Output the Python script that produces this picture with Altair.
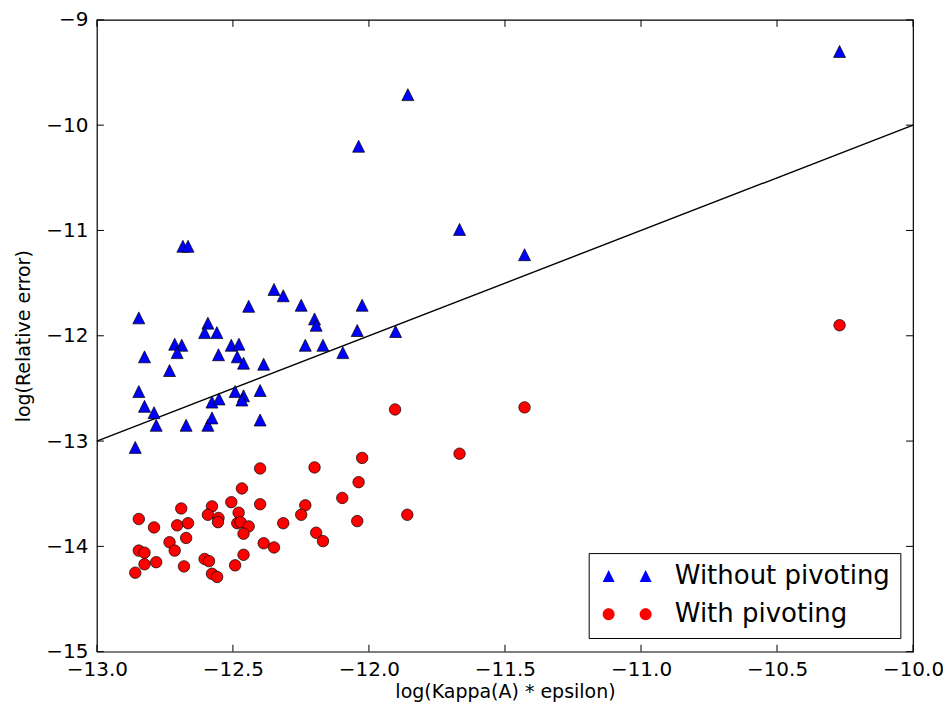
import altair as alt
import pandas as pd

series_names = ["Without pivoting", "With pivoting"]

tri_x = [-12.846, -12.592, -12.604, -12.559, -12.349, -12.315, -12.442, -12.249, -12.200, -12.194,
         -12.025, -12.043, -11.902, -12.714, -12.688, -12.705, -12.825, -12.553, -12.506, -12.478,
         -12.484, -12.461, -12.387, -12.234, -12.169, -12.096, -12.733, -12.846, -12.825, -12.790,
         -12.782, -12.672, -12.592, -12.577, -12.577, -12.551, -12.492, -12.461, -12.467, -12.400,
         -12.400, -12.859, -10.270, -11.857, -12.038, -11.667, -11.428, -12.684, -12.665]
tri_y = [-11.83, -11.88, -11.97, -11.97, -11.56, -11.62, -11.72, -11.71, -11.84, -11.90,
         -11.71, -11.95, -11.96, -12.08, -12.09, -12.16, -12.20, -12.18, -12.09, -12.08,
         -12.20, -12.26, -12.27, -12.09, -12.09, -12.16, -12.33, -12.53, -12.67, -12.73,
         -12.85, -12.85, -12.85, -12.78, -12.63, -12.60, -12.53, -12.57, -12.61, -12.52,
         -12.80, -13.06, -9.30, -9.71, -10.20, -10.99, -11.23, -11.15, -11.15]

circ_x = [-12.025, -12.400, -12.200, -12.038, -12.467, -12.098, -12.506, -12.400, -12.234, -12.690,
          -12.577, -12.592, -12.249, -11.859, -12.479, -12.846, -12.553, -12.555, -12.705, -12.665,
          -12.790, -12.484, -12.472, -12.442, -12.315, -12.043, -12.461, -12.194, -12.169, -12.672,
          -12.733, -12.714, -12.846, -12.825, -12.387, -12.349, -12.461, -12.604, -12.588, -12.782,
          -12.825, -12.680, -12.492, -12.859, -12.577, -12.558, -10.270, -11.904, -11.428, -11.667]
circ_y = [-13.16, -13.26, -13.25, -13.39, -13.45, -13.54, -13.58, -13.60, -13.61, -13.64,
          -13.62, -13.70, -13.70, -13.70, -13.68, -13.74, -13.73, -13.77, -13.80, -13.78,
          -13.82, -13.78, -13.77, -13.81, -13.78, -13.76, -13.88, -13.87, -13.95, -13.92,
          -13.96, -14.04, -14.04, -14.06, -13.97, -14.01, -14.08, -14.12, -14.14, -14.15,
          -14.17, -14.19, -14.18, -14.25, -14.26, -14.29, -11.90, -12.70, -12.68, -13.12]

line_x = [-13.0, -10.0]
line_y = [-13.0, -10.0]

x_ticks = [-13.0, -12.5, -12.0, -11.5, -11.0, -10.5, -10.0]
y_ticks = [-15, -14, -13, -12, -11, -10, -9]

W, H = 817, 632.5
FONT = "DejaVu Sans"
TICK = 7

tri_df = pd.DataFrame({"x": tri_x, "y": tri_y, "series": series_names[0]})
circ_df = pd.DataFrame({"x": circ_x, "y": circ_y, "series": series_names[1]})
all_df = pd.concat([tri_df, circ_df], ignore_index=True)
line_df = pd.DataFrame({"x": line_x, "y": line_y})
xt_df = pd.DataFrame({"x": x_ticks})
yt_df = pd.DataFrame({"y": y_ticks})

xscale = alt.Scale(domain=[-13, -10], nice=False, zero=False)
yscale = alt.Scale(domain=[-15, -9], nice=False, zero=False)

x_axis = alt.Axis(values=x_ticks, format=".1f", title="log(Kappa(A) * epsilon)",
                  labelFont=FONT, labelFontSize=20, labelColor="black", labelPadding=8,
                  ticks=False, domain=False, grid=False, labelFlush=False, labelOverlap=False,
                  titleFont=FONT, titleFontSize=19, titleFontWeight="normal", titleColor="black",
                  titlePadding=3)
y_axis = alt.Axis(values=y_ticks, format="d", title="log(Relative error)",
                  labelFont=FONT, labelFontSize=20, labelColor="black", labelPadding=9,
                  ticks=False, domain=False, grid=False, labelFlush=False, labelOverlap=False,
                  titleFont=FONT, titleFontSize=19, titleFontWeight="normal", titleColor="black",
                  titlePadding=12.5)

x_enc = alt.X("x:Q", scale=xscale, axis=x_axis)
y_enc = alt.Y("y:Q", scale=yscale, axis=y_axis)

TRI = "M0,-1L-1,1L1,1Z"
TRI2 = "M-0.5,-1L-1.5,1L0.5,1Z M5.67,-1L4.67,1L6.67,1Z"
CIRC2 = ("M-1.5,0A1,1 0 1,0 0.5,0A1,1 0 1,0 -1.5,0Z "
         "M4.67,0A1,1 0 1,0 6.67,0A1,1 0 1,0 4.67,0Z")

tri_layer = alt.Chart(tri_df).mark_point(
    shape=TRI, filled=True, fill="#0000ff", stroke="#000000", strokeWidth=0.7,
    size=144, opacity=1
).encode(x=x_enc, y=y_enc)

circ_layer = alt.Chart(circ_df).mark_point(
    shape="circle", filled=True, fill="#ff0000", stroke="#000000", strokeWidth=0.7,
    size=132, opacity=1
).encode(x=x_enc, y=y_enc)

line_layer = alt.Chart(line_df).mark_line(color="black", strokeWidth=1.4).encode(x=x_enc, y=y_enc)

leg = alt.Legend(title=None, orient="none", legendX=492.3, legendY=533.8, padding=10,
                 strokeColor="black", fillColor="white", cornerRadius=0,
                 labelFont=FONT, labelFontSize=26, labelColor="black", labelLimit=400,
                 labelOffset=50.2, symbolSize=144, symbolStrokeColor="black",
                 symbolStrokeWidth=0.7, rowPadding=12.3, symbolOpacity=1)

legend_layer = alt.Chart(all_df).transform_filter("false").mark_point(
    filled=True, opacity=1, size=144, stroke="#000000", strokeWidth=0.7
).encode(
    x=x_enc, y=y_enc,
    color=alt.Color("series:N", scale=alt.Scale(domain=series_names, range=["#0000ff", "#ff0000"]), legend=leg),
    shape=alt.Shape("series:N", scale=alt.Scale(domain=series_names, range=[TRI2, CIRC2]), legend=leg),
)

tick_top = alt.Chart(xt_df).mark_rule(color="black", strokeWidth=1).encode(
    x=x_enc, y=alt.value(0), y2=alt.value(TICK))
tick_bottom = alt.Chart(xt_df).mark_rule(color="black", strokeWidth=1).encode(
    x=x_enc, y=alt.value(H), y2=alt.value(H - TICK))
tick_left = alt.Chart(yt_df).mark_rule(color="black", strokeWidth=1).encode(
    y=y_enc, x=alt.value(0), x2=alt.value(TICK))
tick_right = alt.Chart(yt_df).mark_rule(color="black", strokeWidth=1).encode(
    y=y_enc, x=alt.value(W), x2=alt.value(W - TICK))

chart = alt.layer(
    line_layer, tri_layer, circ_layer, legend_layer,
    tick_top, tick_bottom, tick_left, tick_right
).properties(
    width=W, height=H,
    autosize=alt.AutoSizeParams(type="none"),
    padding={"left": 89, "top": 11.5, "right": 30, "bottom": 52},
    background="white",
).configure_view(stroke="black", strokeWidth=1.2)

chart.save("out.html", embed_options={"renderer": "svg", "actions": False})
